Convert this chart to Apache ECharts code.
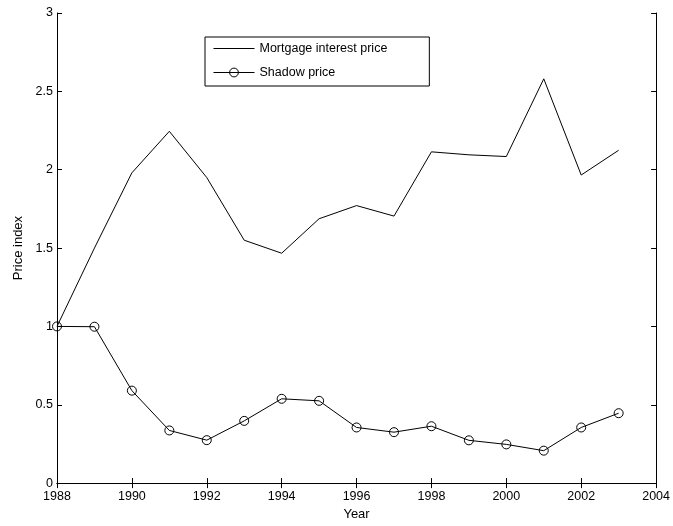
<!DOCTYPE html>
<html>
<head>
<meta charset="utf-8">
<script src="https://cdn.jsdelivr.net/npm/echarts@6/dist/echarts.min.js"></script>
<style>html,body{margin:0;padding:0;background:#fff}#c{width:673px;height:526px}</style>
</head>
<body>
<div id="c"></div>
<script>
var years = [1988,1989,1990,1991,1992,1993,1994,1995,1996,1997,1998,1999,2000,2001,2002,2003];
var mortgage = [1.0,1.50,1.98,2.245,1.95,1.55,1.467,1.687,1.771,1.704,2.114,2.095,2.084,2.58,1.966,2.124];
var shadow = [1.0,0.998,0.59,0.336,0.274,0.397,0.538,0.525,0.355,0.325,0.363,0.273,0.247,0.207,0.355,0.446];
var seriesNames = ['Mortgage interest price','Shadow price'];
var font = 'Liberation Sans, Arial, sans-serif';

function pairs(v){ return years.map(function(y,i){ return [y, v[i]]; }); }

var chart = echarts.init(document.getElementById('c'));
var axisLine = {show:true, lineStyle:{color:'#000', width:1}};
chart.setOption({
  animation:false,
  backgroundColor:'#fff',
  textStyle:{fontFamily:font},
  grid:{left:57, right:16, top:13, bottom:40, show:false},
  legend:{
    orient:'vertical', left:205, top:37,
    data:[
      {name:seriesNames[0], itemStyle:{opacity:0}},
      {name:seriesNames[1]}
    ],
    borderColor:'#000', borderWidth:1, borderRadius:0,
    padding:[5,42,7,8], itemGap:11, itemWidth:41, itemHeight:11,
    backgroundColor:'#fff',
    lineStyle:{width:1, color:'#000'},
    itemStyle:{borderWidth:1, borderColor:'#000', color:'rgba(0,0,0,0)'},
    textStyle:{fontFamily:font, fontSize:12.5, color:'#000'}
  },
  xAxis:[{
    type:'value', min:1988, max:2004, interval:2, position:'bottom',
    name:'Year', nameLocation:'middle', nameGap:21,
    nameTextStyle:{fontFamily:font, fontSize:13, color:'#000'},
    axisLine:axisLine, axisTick:{inside:true, length:5, lineStyle:{color:'#000'}},
    axisLabel:{color:'#000', fontSize:12.5, fontFamily:font, margin:7, formatter:function(v){return String(v);}},
    splitLine:{show:false}
  },{
    type:'value', min:1988, max:2004, interval:2, position:'top',
    axisLine:axisLine, axisTick:{inside:true, length:5, lineStyle:{color:'#000'}},
    axisLabel:{show:false}, splitLine:{show:false}
  }],
  yAxis:[{
    type:'value', min:0, max:3, interval:0.5, position:'left',
    name:'Price index', nameLocation:'middle', nameGap:30, nameRotate:90,
    nameTextStyle:{fontFamily:font, fontSize:13, color:'#000'},
    axisLine:axisLine, axisTick:{inside:true, length:5, lineStyle:{color:'#000'}},
    axisLabel:{color:'#000', fontSize:12.5, fontFamily:font, margin:4},
    splitLine:{show:false}
  },{
    type:'value', min:0, max:3, interval:0.5, position:'right',
    axisLine:axisLine, axisTick:{inside:true, length:5, lineStyle:{color:'#000'}},
    axisLabel:{show:false}, splitLine:{show:false}
  }],
  series:[{
    name:seriesNames[0], type:'line', data:pairs(mortgage),
    symbol:'none', lineStyle:{color:'#000', width:1}, itemStyle:{color:'#000'}
  },{
    name:seriesNames[1], type:'line', data:pairs(shadow),
    symbol:'circle', symbolSize:9, showAllSymbol:true,
    lineStyle:{color:'#000', width:1},
    itemStyle:{color:'rgba(0,0,0,0)', borderColor:'#000', borderWidth:1}
  }]
});
</script>
</body>
</html>
